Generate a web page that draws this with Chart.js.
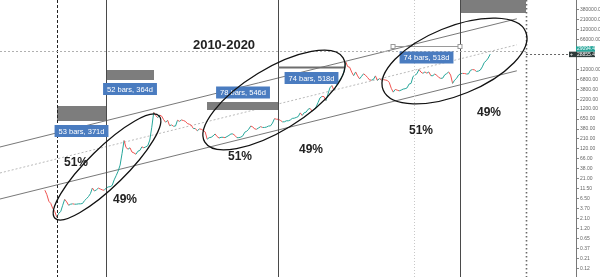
<!DOCTYPE html>
<html>
<head>
<meta charset="utf-8">
<script src="https://cdn.jsdelivr.net/npm/chart.js@4"></script>
<style>
    html, body { margin: 0; padding: 0; background: #ffffff; }
    #moldura { width: 600px; height: 277px; position: relative; }
</style>
</head>
<body>
<div id="moldura"><canvas id="graficoBtc"></canvas></div>
<script>
"use strict";

/********************************************************************
 * Dados: preço semanal aproximado (meio e fim de cada mês)
 ********************************************************************/
const inicioSerie = { ano: 2011, mes: 7 };   // agosto de 2011

const precos2011 = [11.0, 8.5, 5.8, 5.1, 3.8, 3.2, 2.3, 2.9, 3.2, 4.6];
const precos2012 = [6.5, 5.6, 4.6, 4.9, 5.0, 4.9, 4.9, 5.0, 5.0, 5.1, 6.0, 6.7, 7.6, 9.0, 12.5, 10.5, 11.2, 12.4, 11.8, 11.2, 11.0, 12.5, 13.3, 13.5];
const precos2013 = [14.5, 20.0, 25.5, 33.0, 47.0, 93.0, 195.0, 130.0, 118.0, 128.0, 100.0, 95.0, 88.0, 105.0, 110.0, 135.0, 128.0, 135.0, 145.0, 200.0, 420.0, 1000.0, 830.0, 730.0];
const precos2014 = [850, 800, 650, 560, 630, 460, 480, 445, 450, 630, 590, 640, 620, 590, 520, 500, 470, 390, 390, 340, 380, 375, 350, 320];
const precos2015 = [210, 230, 235, 255, 285, 245, 225, 235, 235, 230, 245, 262, 285, 285, 262, 230, 230, 237, 255, 315, 335, 375, 450, 430];
const precos2016 = [380, 375, 405, 435, 415, 415, 425, 450, 455, 535, 690, 670, 665, 625, 575, 575, 610, 610, 640, 700, 710, 740, 780, 965];
const precos2017 = [830, 970, 1010, 1190, 1250, 1070, 1180, 1350, 1750, 2300, 2500, 2480, 1950, 2850, 4100, 4700, 3600, 4340, 5700, 6450, 7800, 10000, 18500, 14000];
const precos2018 = [13500, 10200, 8300, 10300, 8200, 6900, 8000, 9250, 8500, 7500, 6500, 6400, 6700, 8200, 6300, 7000, 6500, 6600, 6450, 6300, 5600, 4000, 3200, 3740];
const precos2019 = [3600, 3450, 3600, 3820, 3900, 4100, 5100, 5300, 7900, 8550, 9300, 11900, 10200, 9500, 10300, 9600, 10300, 8300, 8300, 9150, 8500, 7500, 7100, 7200];
const precos2020 = [8700, 9350, 10300, 8600, 5300, 6400, 7100, 8600, 9300, 9450, 9400, 9140, 9200, 11300, 11800, 11650, 10600, 10800, 11500, 13800, 17800, 19700, 23000, 28855];

/* canal paralelo: [ano, preço] no início e no fim */
const canalSuperior = [[2010.68, 134], [2021.56, 222900]];
const canalMedio    = [[2010.68, 29.8], [2021.56, 49530]];
const canalInferior = [[2010.68, 6.61], [2021.56, 11000]];

/* eixo de preços (escala log) */
const valoresEixo = [0.12, 0.2134, 0.3795, 0.6748, 1.2, 2.134, 3.795, 6.748, 12, 21.34, 37.95, 67.48, 120, 213.4, 379.5, 674.8, 1200, 2134, 3795, 6748, 12000, 67480, 120000, 213390, 379470];
const rotulosEixo = ["0.12", "0.21", "0.37", "0.65", "1.20", "2.10", "3.70", "6.50", "11.50", "21.00", "38.00", "66.00", "120.00", "210.00", "380.00", "650.00", "1200.00", "2200.00", "3800.00", "6800.00", "12000.00", "66000.00", "120000.00", "210000.00", "380000.00"];

const precoAtual = 28855.44;
const precoMarcado = 29094.44;

/********************************************************************
 * Desenhos sobre o gráfico (coordenadas em ano / preço)
 ********************************************************************/
const linhasVerticais = [
    { x: 2011.88, tipo: "tracejada" },
    { x: 2012.91, tipo: "solida" },
    { x: 2016.53, tipo: "solida" },
    { x: 2020.36, tipo: "solida" },
    { x: 2019.40, tipo: "clara" },
    { x: 2021.754, tipo: "pontilhada" }
];

const retangulos = [
    { x0: 2011.88, x1: 2012.912, p0: 1436, p1: 603 },
    { x0: 2012.912, x1: 2013.922, p0: 11520, p1: 6463 },
    { x0: 2015.038, x1: 2016.533, p0: 1810, p1: 1139 },
    { x0: 2020.364, x1: 2021.754, p0: 900000, p1: 311700 }
];

const medicoes = [
    { x0: 2016.533, x1: 2017.943, p: 13710, cor: "#6e6e6e", largura: 2, alcas: false },
    { x0: 2018.954, x1: 2020.364, p: 46180, cor: "#9a9a9a", largura: 1, alcas: true }
];

const etiquetas = [
    { x: 2012.396, p: 338, texto: "53 bars, 371d" },
    { x: 2013.417, p: 3838, texto: "52 bars, 364d" },
    { x: 2015.796, p: 3136, texto: "78 bars, 546d" },
    { x: 2017.238, p: 7255, texto: "74 bars, 518d" },
    { x: 2019.659, p: 23750, texto: "74 bars, 518d" }
];

const elipses = [
    { x: 2012.933, p: 42.1, a: 73, b: 19, angulo: -44.5 },
    { x: 2016.448, p: 2032, a: 81, b: 31, angulo: -31.4 },
    { x: 2020.248, p: 19400, a: 77, b: 34, angulo: -22.2 }
];

const textos = [
    { x: 2015.396, p: 48960, texto: "2010-2020", fonte: "bold 13px 'Liberation Sans', Arial, sans-serif" },
    { x: 2012.28, p: 53.1, texto: "51%" },
    { x: 2013.312, p: 6.24, texto: "49%" },
    { x: 2015.733, p: 75.1, texto: "51%" },
    { x: 2017.227, p: 112.6, texto: "49%" },
    { x: 2019.543, p: 338, texto: "51%" },
    { x: 2020.975, p: 957, texto: "49%" }
];

const VERDE = "#26a69a";
const VERMELHO = "#ef5350";

/********************************************************************
 * Monta a série de preços
 ********************************************************************/
function montarSerie() {

    const anos = [precos2011, precos2012, precos2013, precos2014, precos2015,
                  precos2016, precos2017, precos2018, precos2019, precos2020];

    const serie = [];

    anos.forEach((lista, k) => {

        const ano = inicioSerie.ano + k;
        const mes0 = k === 0 ? inicioSerie.mes : 0;

        lista.forEach((preco, i) => {

            serie.push({ x: ano + (mes0 + (i + 1) / 2) / 12, y: preco });

        });

    });

    return serie;

}

function pontosCanal(canal) {

    return canal.map(c => ({ x: c[0], y: c[1] }));

}

/********************************************************************
 * Plugin dos desenhos
 ********************************************************************/
const pluginDesenhos = {

    id: "desenhos",

    afterDatasetsDraw(chart) {

        const { ctx, chartArea: area, scales } = chart;
        const sx = scales.x, sy = scales.y;

        ctx.save();

        ctx.beginPath();
        ctx.rect(area.left, area.top, area.right - area.left, area.bottom - area.top);
        ctx.clip();

        // retângulos cinzas
        ctx.fillStyle = "#7d7d7d";
        retangulos.forEach(r => {
            const x0 = sx.getPixelForValue(r.x0), x1 = sx.getPixelForValue(r.x1);
            const y0 = sy.getPixelForValue(r.p0), y1 = sy.getPixelForValue(r.p1);
            ctx.fillRect(x0, y0, x1 - x0, y1 - y0);
        });

        // linhas verticais
        linhasVerticais.forEach(v => {
            const px = Math.round(sx.getPixelForValue(v.x)) + 0.5;
            ctx.beginPath();
            if (v.tipo === "tracejada") {
                ctx.strokeStyle = "#222222"; ctx.lineWidth = 1; ctx.setLineDash([3, 2]);
            } else if (v.tipo === "solida") {
                ctx.strokeStyle = "#4a4a4a"; ctx.lineWidth = 1; ctx.setLineDash([]);
            } else if (v.tipo === "clara") {
                ctx.strokeStyle = "#c8c8c8"; ctx.lineWidth = 1; ctx.setLineDash([1, 2]);
            } else {
                ctx.strokeStyle = "#6a6a6a"; ctx.lineWidth = 1.6; ctx.setLineDash([1.5, 2.5]);
            }
            ctx.moveTo(px, area.top);
            ctx.lineTo(px, area.bottom);
            ctx.stroke();
        });
        ctx.setLineDash([]);

        // linha do preço atual
        const yAtual = Math.round(sy.getPixelForValue(precoAtual)) + 0.5;
        ctx.beginPath();
        ctx.strokeStyle = "#b0b0b0";
        ctx.lineWidth = 1;
        ctx.setLineDash([2, 2]);
        ctx.moveTo(area.left, yAtual - 3);
        ctx.lineTo(sx.getPixelForValue(2021.754), yAtual - 3);
        ctx.stroke();
        ctx.beginPath();
        ctx.strokeStyle = "#666666";
        ctx.moveTo(sx.getPixelForValue(2021.754), yAtual);
        ctx.lineTo(area.right, yAtual);
        ctx.stroke();
        ctx.setLineDash([]);

        // medições finas
        medicoes.forEach(m => {
            const x0 = sx.getPixelForValue(m.x0), x1 = sx.getPixelForValue(m.x1);
            const y = Math.round(sy.getPixelForValue(m.p)) + 0.5;
            ctx.beginPath();
            ctx.strokeStyle = m.cor;
            ctx.lineWidth = m.largura;
            ctx.moveTo(x0, y);
            ctx.lineTo(x1, y);
            ctx.stroke();
            if (m.alcas) {
                ctx.fillStyle = "#ffffff";
                ctx.strokeStyle = "#999999";
                ctx.lineWidth = 1;
                [x0, x1].forEach(px => {
                    ctx.fillRect(px - 2, y - 2, 4, 4);
                    ctx.strokeRect(px - 2, y - 2, 4, 4);
                });
            }
        });

        // etiquetas azuis
        ctx.font = "7.5px 'Liberation Sans', Arial, sans-serif";
        ctx.textAlign = "center";
        ctx.textBaseline = "middle";
        etiquetas.forEach(e => {
            const cx = sx.getPixelForValue(e.x), cy = sy.getPixelForValue(e.p);
            const w = ctx.measureText(e.texto).width + 8;
            ctx.fillStyle = "#4a7cc0";
            ctx.fillRect(cx - w / 2, cy - 6, w, 12);
            ctx.fillStyle = "#ffffff";
            ctx.fillText(e.texto, cx, cy + 0.5);
        });

        // elipses
        ctx.strokeStyle = "#111111";
        ctx.lineWidth = 1.3;
        elipses.forEach(el => {
            const cx = sx.getPixelForValue(el.x), cy = sy.getPixelForValue(el.p);
            ctx.beginPath();
            ctx.ellipse(cx, cy, el.a, el.b, el.angulo * Math.PI / 180, 0, Math.PI * 2);
            ctx.stroke();
        });

        // textos
        ctx.fillStyle = "#222222";
        textos.forEach(t => {
            ctx.font = t.fonte || "bold 12px 'Liberation Sans', Arial, sans-serif";
            ctx.fillText(t.texto, sx.getPixelForValue(t.x), sy.getPixelForValue(t.p));
        });

        ctx.restore();

    },

    afterDraw(chart) {

        const { ctx, chartArea: area, scales } = chart;
        const yAtual = scales.y.getPixelForValue(precoAtual);

        ctx.save();
        ctx.font = "5px 'Liberation Sans', Arial, sans-serif";
        ctx.textBaseline = "middle";
        ctx.textAlign = "left";

        // etiqueta escura (preço atual)
        ctx.fillStyle = "#2f3b3b";
        ctx.fillRect(area.right - 7, yAtual - 2.5, 26, 5.5);
        ctx.fillStyle = "#ffffff";
        ctx.fillText("+", area.right - 6, yAtual + 0.3);
        ctx.fillText(precoAtual.toFixed(2), area.right + 1, yAtual + 0.3);

        // etiqueta verde (preço marcado)
        ctx.fillStyle = VERDE;
        ctx.fillRect(area.right, yAtual - 8, 19, 5.5);
        ctx.fillStyle = "#ffffff";
        ctx.fillText(precoMarcado.toFixed(2), area.right + 1, yAtual - 5.2);

        ctx.restore();

    }

};

/********************************************************************
 * Cria o gráfico
 ********************************************************************/
function criarGrafico() {

    const canvas = document.getElementById("graficoBtc");

    return new Chart(canvas, {

        type: "line",

        data: {

            datasets: [

                {
                    data: pontosCanal(canalSuperior),
                    borderColor: "#555555",
                    borderWidth: 0.8,
                    pointRadius: 0,
                    order: 3
                },

                {
                    data: pontosCanal(canalMedio),
                    borderColor: "#a8a8a8",
                    borderWidth: 0.8,
                    borderDash: [2, 2],
                    pointRadius: 0,
                    order: 3
                },

                {
                    data: pontosCanal(canalInferior),
                    borderColor: "#555555",
                    borderWidth: 0.8,
                    pointRadius: 0,
                    order: 3
                },

                {
                    data: montarSerie(),
                    borderWidth: 1,
                    pointRadius: 0,
                    tension: 0,
                    order: 1,
                    segment: {
                        borderColor: c => c.p1.parsed.y >= c.p0.parsed.y ? VERDE : VERMELHO
                    }
                }

            ]

        },

        options: {

            responsive: true,

            maintainAspectRatio: false,

            animation: false,

            layout: { padding: 0 },

            plugins: {
                legend: { display: false },
                tooltip: { enabled: false }
            },

            scales: {

                x: {
                    type: "linear",
                    bounds: "data",
                    min: 2010.68,
                    max: 2022.806,
                    display: false
                },

                y: {
                    type: "logarithmic",
                    position: "right",
                    bounds: "data",
                    min: 0.07255,
                    max: 661400,
                    border: { color: "#777777", width: 1 },
                    grid: { drawOnChartArea: false, drawTicks: true, tickLength: 3, color: "#888888" },
                    ticks: {
                        autoSkip: false,
                        padding: 1,
                        color: "#666666",
                        font: { size: 5, family: "'Liberation Sans', Arial, sans-serif" },
                        callback: (valor, i) => rotulosEixo[i]
                    },
                    afterBuildTicks: s => {
                        s.ticks = valoresEixo.map(v => ({ value: v }));
                    },
                    afterFit: s => {
                        s.width = 24;
                        s.paddingTop = 0;
                        s.paddingBottom = 0;
                    }
                }

            }

        },

        plugins: [pluginDesenhos]

    });

}

criarGrafico();
</script>
</body>
</html>
